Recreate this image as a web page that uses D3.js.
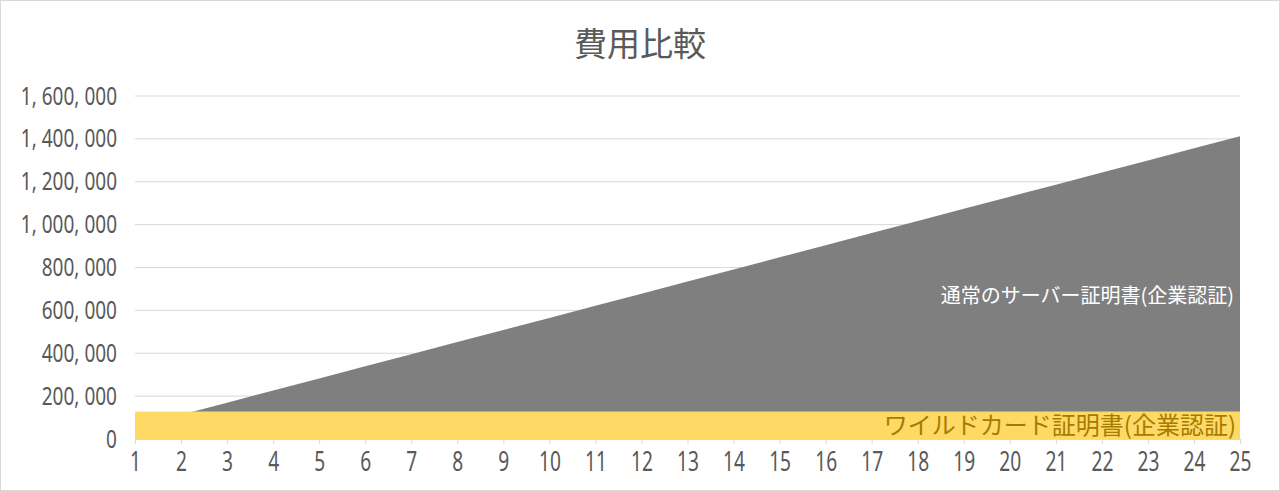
<!DOCTYPE html>
<html>
<head>
<meta charset="utf-8">
<script src="https://cdn.jsdelivr.net/npm/d3@7"></script>
<style>
  body { margin: 0; background: #fff; }
  svg { font-family: "Noto Sans CJK JP", "Noto Sans", sans-serif; }
  .num { font-family: "Noto Sans", "DejaVu Sans", sans-serif; }
</style>
</head>
<body>
<svg id="chart"></svg>
<script>
// years on the x axis
var years = [1,2,3,4,5,6,7,8,9,10,11,12,13,14,15,16,17,18,19,20,21,22,23,24,25]
// 通常のサーバー証明書 (cumulative cost)
var normalCost = [56500,113000,169500,226000,282500,339000,395500,452000,508500,565000,
                  621500,678000,734500,791000,847500,904000,960500,1017000,1073500,1130000,
                  1186500,1243000,1299500,1356000,1412500]
// ワイルドカード証明書
var wildCost = [128000,128000,128000,128000,128000,128000,128000,128000,128000,128000,
                128000,128000,128000,128000,128000,128000,128000,128000,128000,128000,
                128000,128000,128000,128000,128000]
var yTicks = [0,200000,400000,600000,800000,1000000,1200000,1400000,1600000]

var dataset = years.map(function(y, i){
    return {year: y, normal: normalCost[i], wild: wildCost[i]}
})

var dimensions = {
    width: 1280,
    height: 491,
    margin: {
        top: 96,
        bottom: 52,
        left: 135,
        right: 40
    }
}

var svg = d3.select("#chart")
            .attr("width", dimensions.width)
            .attr("height", dimensions.height)

// chart border
svg.append("rect")
    .attr("x", 0.5)
    .attr("y", 0.5)
    .attr("width", dimensions.width - 1)
    .attr("height", dimensions.height - 1)
    .attr("fill", "#fff")
    .attr("stroke", "#d9d9d9")

var xScale = d3.scaleLinear()
                .domain([1, 25])
                .range([dimensions.margin.left, dimensions.width - dimensions.margin.right])

var yScale = d3.scaleLinear()
                .domain([0, 1600000])
                .range([dimensions.height - dimensions.margin.bottom, dimensions.margin.top])

// gridlines
svg.append("g")
    .selectAll("line")
    .data(yTicks.slice(1))
    .join("line")
    .attr("x1", xScale(1))
    .attr("x2", xScale(25))
    .attr("y1", d => yScale(d))
    .attr("y2", d => yScale(d))
    .attr("stroke", "#d9d9d9")
    .attr("stroke-width", 1)

var area1 = d3.area()
            .x(d => xScale(d.year))
            .y0(yScale(0))
            .y1(d => yScale(d.normal))
var area2 = d3.area()
            .x(d => xScale(d.year))
            .y0(yScale(0))
            .y1(d => yScale(d.wild))

svg.append("path")
    .datum(dataset)
    .attr("d", area1)
    .attr("fill", "#7f7f7f")

svg.append("path")
    .datum(dataset)
    .attr("d", area2)
    .attr("fill", "#ffd966")

// squeeze the number labels so they look condensed like the original
function condense(sel, k) {
    sel.each(function(){
        var w = this.getComputedTextLength()
        d3.select(this)
          .attr("textLength", w * k)
          .attr("lengthAdjust", "spacingAndGlyphs")
    })
}

// x axis
var xAxisGen = d3.axisBottom(xScale).tickValues(years).tickSize(5).tickPadding(8)
var xAxis = svg.append("g")
                .attr("transform", `translate(0, ${yScale(0)})`)
                .call(xAxisGen)
xAxis.attr("font-family", null).attr("font-size", null)
xAxis.select(".domain").attr("stroke", "#d9d9d9")
xAxis.selectAll(".tick line").attr("stroke", "#d9d9d9")
xAxis.selectAll("text")
    .attr("class", "num")
    .attr("fill", "#595959")
    .style("font-size", "27px")
    .call(condense, 0.71)

// y axis
var yAxisGen = d3.axisLeft(yScale)
                .tickValues(yTicks)
                .tickSize(0)
                .tickPadding(18)
                .tickFormat(d => d3.format(",")(d).replace(/,/g, ", "))
var yAxis = svg.append("g")
                .attr("transform", `translate(${dimensions.margin.left}, 0)`)
                .call(yAxisGen)
yAxis.attr("font-family", null).attr("font-size", null)
yAxis.select(".domain").remove()
yAxis.selectAll("text")
    .attr("class", "num")
    .attr("fill", "#595959")
    .style("font-size", "25px")
    .call(condense, 0.76)

// title
svg.append("text")
    .attr("x", dimensions.width / 2)
    .attr("y", 56)
    .attr("text-anchor", "middle")
    .attr("fill", "#595959")
    .style("font-size", "33px")
    .text("費用比較")

// series labels
svg.append("text")
    .attr("x", xScale(25) - 6)
    .attr("y", 303)
    .attr("text-anchor", "end")
    .attr("fill", "#ffffff")
    .style("font-size", "20px")
    .text("通常のサーバー証明書(企業認証)")

svg.append("text")
    .attr("x", xScale(25) - 4)
    .attr("y", 434)
    .attr("text-anchor", "end")
    .attr("fill", "#a67c00")
    .style("font-size", "24px")
    .text("ワイルドカード証明書(企業認証)")
</script>
</body>
</html>
